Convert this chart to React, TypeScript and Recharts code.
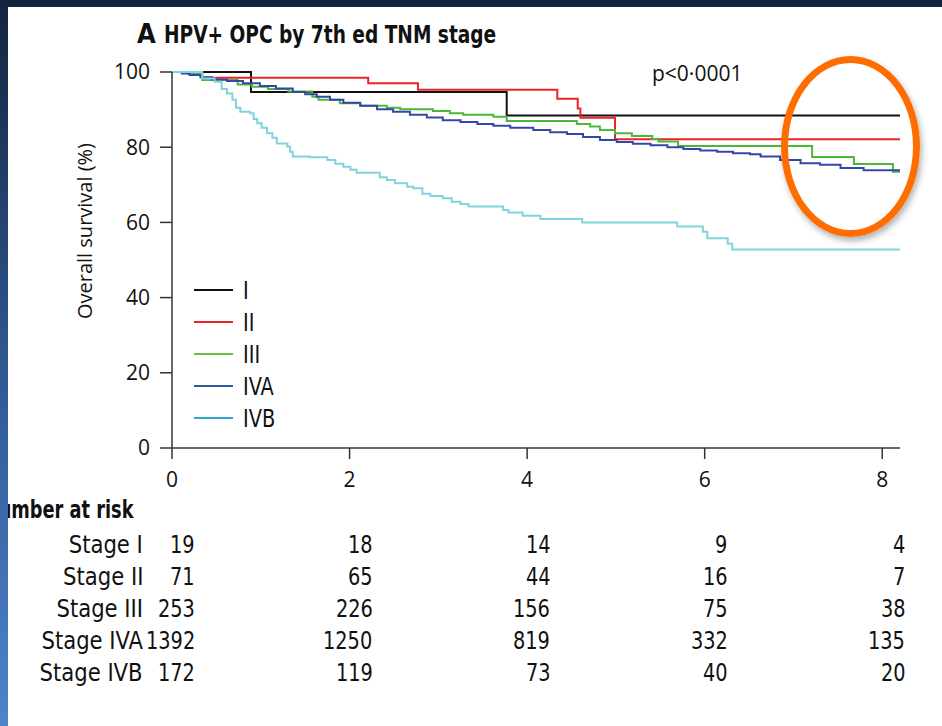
import { LineChart, Line, XAxis, YAxis } from "recharts"

const stageNames = ["I", "II", "III", "IVA", "IVB"]
const lineColors = ["#111111", "#ec2227", "#4cb83a", "#3547a6", "#80d4e0"]
const legendColors = ["#111111", "#ec2227", "#6bbf40", "#2e58a2", "#2aa8d2"]

const xTicks = [0, 2, 4, 6, 8]
const yTicks = [0, 20, 40, 60, 80, 100]

// Kaplan-Meier steps (years, % surviving)
const stageITime = [0, 0.89, 3.77, 8.2]
const stageISurv = [100, 94.7, 88.4, 88.4]

const stageIITime = [0, 0.34, 2.21, 2.77, 4.34, 4.57, 4.6, 4.99, 8.2]
const stageIISurv = [100, 98.5, 97.0, 95.3, 92.9, 90.3, 87.8, 82.1, 82.1]

const stageIIITime = [
  0, 0.18, 0.34, 0.74, 0.9, 1.08, 1.31, 1.58, 1.65, 1.89, 2.12, 2.42, 2.57, 2.94, 3.13,
  3.28, 3.62, 3.77, 4.56, 4.71, 4.82, 4.99, 5.18, 5.41, 5.48, 5.7, 7.21, 7.68, 8.12, 8.2,
]
const stageIIISurv = [
  100, 99.5, 97.9, 96.7, 96.1, 95.5, 94.8, 93.4, 92.6, 91.7, 91.0, 90.5, 90.1, 89.6, 89.0,
  88.6, 88.1, 87.0, 86.2, 85.5, 84.6, 83.7, 83.0, 82.2, 81.5, 80.3, 77.4, 75.5, 73.5, 73.5,
]

const stageIVATime = [
  0, 0.11, 0.2, 0.32, 0.45, 0.62, 0.8, 0.99, 1.17, 1.36, 1.5, 1.63, 1.78, 1.93, 2.12, 2.31,
  2.49, 2.68, 2.87, 3.05, 3.25, 3.44, 3.62, 3.81, 4.07, 4.26, 4.45, 4.63, 4.82, 5.01, 5.19,
  5.39, 5.58, 5.76, 5.95, 6.14, 6.32, 6.51, 6.63, 6.85, 7.08, 7.3, 7.53, 7.79, 8.2,
]
const stageIVASurv = [
  100, 99.6, 99.2, 98.6, 98.0, 97.6, 97.0, 96.3, 95.6, 94.7, 94.1, 93.4, 92.6, 91.8, 91.0, 90.1,
  89.4, 88.6, 87.9, 87.2, 86.7, 86.2, 85.7, 85.2, 84.6, 84.0, 83.5, 82.7, 81.9, 81.4, 80.9,
  80.5, 80.0, 79.5, 79.1, 78.8, 78.4, 78.1, 77.5, 76.6, 75.7, 75.3, 74.5, 73.9, 73.7,
]

const stageIVBTime = [
  0, 0.34, 0.48, 0.56, 0.62, 0.68, 0.72, 0.77, 0.88, 0.92, 0.96, 1.01, 1.07, 1.13, 1.18, 1.3,
  1.33, 1.36, 1.55, 1.75, 1.84, 1.93, 2.01, 2.08, 2.34, 2.42, 2.51, 2.65, 2.72, 2.82, 2.91,
  3.05, 3.15, 3.25, 3.34, 3.73, 3.79, 3.95, 4.15, 4.62, 5.69, 5.98, 6.03, 6.26, 6.31, 8.2,
]
const stageIVBSurv = [
  100, 98.3, 97.4, 95.5, 94.3, 92.6, 90.5, 89.4, 89.0, 87.5, 86.4, 85.2, 83.7, 82.5, 81.0, 80.1,
  78.8, 77.5, 77.3, 76.6, 75.6, 74.8, 74.0, 73.2, 72.0, 71.3, 70.4, 69.5, 69.1, 67.6, 67.0,
  66.4, 65.5, 64.9, 64.2, 63.3, 62.6, 61.8, 60.9, 60.0, 58.9, 57.5, 55.8, 54.3, 52.8, 52.8,
]

const riskLabels = ["Stage I", "Stage II", "Stage III", "Stage IVA", "Stage IVB"]
const riskStageI = [19, 18, 14, 9, 4]
const riskStageII = [71, 65, 44, 16, 7]
const riskStageIII = [253, 226, 156, 75, 38]
const riskStageIVA = [1392, 1250, 819, 332, 135]
const riskStageIVB = [172, 119, 73, 40, 20]

const times = [stageITime, stageIITime, stageIIITime, stageIVATime, stageIVBTime]
const survs = [stageISurv, stageIISurv, stageIIISurv, stageIVASurv, stageIVBSurv]
const riskRows = [riskStageI, riskStageII, riskStageIII, riskStageIVA, riskStageIVB]

const series = stageNames.map((name, i) => ({
  name,
  color: lineColors[i],
  data: times[i].map((t, j) => ({ t, s: survs[i][j] })),
}))

const X_MAX = 8.2
const PLOT_LEFT = 172
const PLOT_RIGHT = 900
const xPos = (t: number) => PLOT_LEFT + (t / X_MAX) * (PLOT_RIGHT - PLOT_LEFT)

const sans = "'Open Sans', 'Noto Sans', sans-serif"
const narrow = "'DejaVu Sans Condensed', 'Liberation Sans Narrow', sans-serif"

// condensed text, squeezed further to match the journal face
const squeeze = (origin: string, k = 0.86): React.CSSProperties => ({
  transform: `scaleX(${k})`,
  transformOrigin: origin,
  whiteSpace: "nowrap",
})

export default function App() {
  const axisStroke = { stroke: "#333", strokeWidth: 1.5 }
  const tickStyle = { fill: "#111", fontSize: 21, fontFamily: sans }
  return (
    <div style={{ position: "absolute", left: 0, top: 0, width: 942, height: 726, background: "#fff", overflow: "hidden" }}>
      <div style={{ position: "absolute", left: 137, top: 18, fontFamily: narrow, fontWeight: 700, fontSize: 27, lineHeight: "32px", color: "#111" }}>
        A
      </div>
      <div style={{ position: "absolute", left: 164, top: 20, fontFamily: narrow, fontWeight: 700, fontSize: 24, lineHeight: "30px", color: "#111", ...squeeze("left center") }}>
        HPV+ OPC by 7th ed TNM stage
      </div>

      <div style={{ position: "absolute", left: 0, top: 0 }}>
        <LineChart width={942} height={500} margin={{ top: 72, right: 42, left: 112, bottom: 0 }}>
          <XAxis
            type="number"
            dataKey="t"
            domain={[0, X_MAX]}
            ticks={xTicks}
            allowDataOverflow
            height={52}
            tickSize={11}
            tickMargin={13}
            axisLine={axisStroke}
            tickLine={axisStroke}
            tick={tickStyle}
          />
          <YAxis
            type="number"
            dataKey="s"
            domain={[0, 100]}
            ticks={yTicks}
            width={60}
            tickSize={12}
            tickMargin={10}
            axisLine={axisStroke}
            tickLine={axisStroke}
            tick={tickStyle}
          />
          {series.map((sr) => (
            <Line
              key={sr.name}
              data={sr.data}
              dataKey="s"
              name={sr.name}
              type="stepAfter"
              stroke={sr.color}
              strokeWidth={2}
              dot={false}
              activeDot={false}
              isAnimationActive={false}
            />
          ))}
        </LineChart>
      </div>

      <div style={{ position: "absolute", left: 194, top: 274, fontFamily: narrow }}>
        {stageNames.map((name, i) => (
          <div key={name} style={{ display: "flex", alignItems: "center", height: 32 }}>
            <div style={{ width: 39, height: 2, background: legendColors[i] }} />
            <span style={{ marginLeft: 10, fontSize: 25, color: "#111", display: "inline-block", ...squeeze("left center") }}>{name}</span>
          </div>
        ))}
      </div>

      <div
        style={{
          position: "absolute",
          left: 84,
          top: 231,
          transform: "translate(-50%, -50%) rotate(-90deg)",
          whiteSpace: "nowrap",
          fontFamily: sans,
          fontSize: 20,
          color: "#111",
        }}
      >
        Overall survival (%)
      </div>

      <div style={{ position: "absolute", left: 652, top: 59, fontFamily: sans, fontSize: 21, lineHeight: "28px", color: "#111" }}>
        p&lt;0·0001
      </div>

      <div
        style={{
          position: "absolute",
          left: 781,
          top: 56,
          width: 125,
          height: 167,
          border: "7px solid #ff6c00",
          borderRadius: "50%",
          boxShadow: "2px 4px 6px rgba(0,0,0,0.3)",
        }}
      />

      <div style={{ position: "absolute", right: 942 - 133, top: 495, fontFamily: narrow, fontWeight: 700, fontSize: 25, lineHeight: "30px", color: "#111", ...squeeze("right center", 0.79) }}>
        Number at risk
      </div>
      {riskLabels.map((label, r) => (
        <div key={label}>
          <div style={{ position: "absolute", right: 942 - 143, top: 529 + r * 32, fontFamily: narrow, fontSize: 25, lineHeight: "32px", color: "#111", ...squeeze("right center", 0.94) }}>
            {label}
          </div>
          {riskRows[r].map((n, c) => (
            <div
              key={c}
              style={{ position: "absolute", right: 942 - (xPos(xTicks[c]) + 23), top: 529 + r * 32, fontFamily: narrow, fontSize: 25, lineHeight: "32px", color: "#111", ...squeeze("right center") }}
            >
              {n}
            </div>
          ))}
        </div>
      ))}

      <div style={{ position: "absolute", left: 0, top: 0, width: 942, height: 7, background: "#13243f" }} />
      <div style={{ position: "absolute", left: 0, top: 0, width: 8, height: 726, background: "linear-gradient(to bottom, #13243f, #2f5790 50%, #4d84cc)" }} />
    </div>
  )
}
